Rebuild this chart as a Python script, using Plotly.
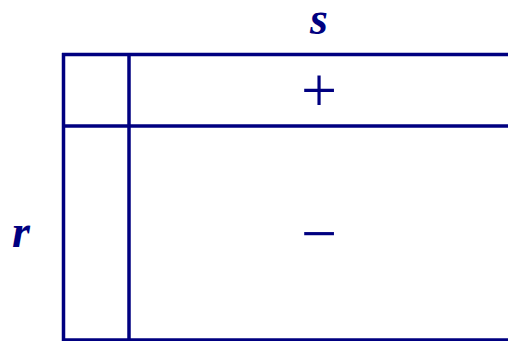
import plotly.graph_objects as go

# sign table: column variable s, row variable r
col_label = "s"
row_label = "r"
cell_signs = ["+", "\u2212"]   # top cell, bottom cell

navy = "#000080"

# grid of the table (pixel-like units)
x_left, x_split, x_right = 63.5, 129, 520
y_edges = [54.5, 126, 340]

fig = go.Figure()

# horizontal rules
for y in y_edges:
    fig.add_shape(type="line", x0=x_left - 1.5, x1=x_right, y0=y, y1=y,
                  line=dict(color=navy, width=3.5))
# vertical rules
for x in [x_left, x_split]:
    fig.add_shape(type="line", x0=x, x1=x, y0=y_edges[0] - 1.5, y1=y_edges[-1] + 1,
                  line=dict(color=navy, width=3.5))

cx = (x_split + 508) / 2
fig.add_annotation(x=cx, y=18, text="<b><i>" + col_label + "</i></b>", showarrow=False,
                   font=dict(family="Liberation Serif", size=46, color=navy))
fig.add_annotation(x=21, y=231, text="<b><i>" + row_label + "</i></b>", showarrow=False,
                   font=dict(family="Liberation Serif", size=46, color=navy))
for i, sgn in enumerate(cell_signs):
    cy = (y_edges[i] + y_edges[i + 1]) / 2
    fig.add_annotation(x=cx, y=cy, text=sgn, showarrow=False,
                       font=dict(family="Liberation Serif", size=64, color=navy))

fig.update_xaxes(range=[0, 508], visible=False, fixedrange=True)
fig.update_yaxes(range=[341, 0], visible=False, fixedrange=True)
fig.update_layout(width=508, height=341, margin=dict(l=0, r=0, t=0, b=0),
                  plot_bgcolor="white", paper_bgcolor="white", showlegend=False)

# drop the default page margin so the figure sits at the window corner
fig.write_html("out.html", config={"displayModeBar": False},
               post_script="document.body.style.margin='0';document.body.style.overflow='hidden';")
